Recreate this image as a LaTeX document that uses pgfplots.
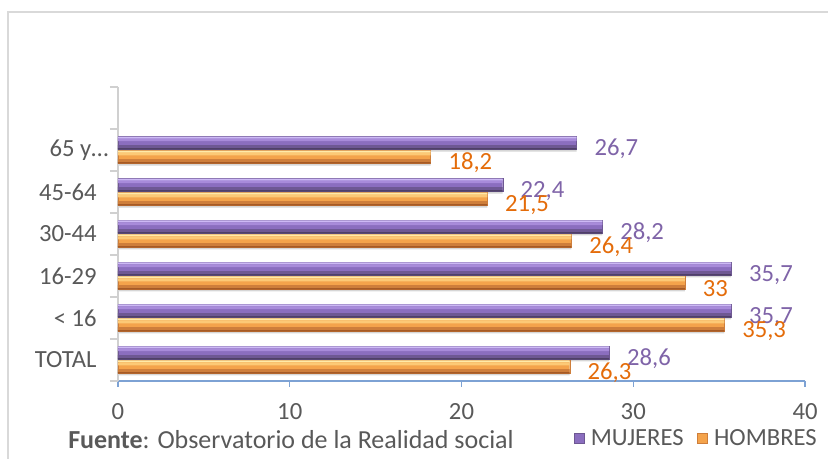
\documentclass[border=0pt]{standalone}
\usepackage{pgfplots}
\usepackage{pgfplotstable}
\pgfplotsset{compat=1.18}
\usepackage{fontspec}
\setmainfont{Carlito}
\definecolor{txt}{HTML}{595959}
\definecolor{purpM}{HTML}{8B6EBF}
\definecolor{purpL}{HTML}{CDB9F5}
\definecolor{purpU}{HTML}{A88BDA}
\definecolor{purpD}{HTML}{6E5893}
\definecolor{purpB}{HTML}{4F4068}
\definecolor{oraM}{HTML}{F4A34B}
\definecolor{oraL}{HTML}{FFEAA8}
\definecolor{oraU}{HTML}{FCC976}
\definecolor{oraD}{HTML}{CE7E3B}
\definecolor{oraB}{HTML}{A55A26}
\definecolor{shad}{HTML}{D6D6D6}
\definecolor{purpT}{HTML}{7F64A8}
\definecolor{oraT}{HTML}{E46C0A}
\definecolor{framec}{HTML}{D9D9D9}
\definecolor{yax}{HTML}{D0D0D0}
\definecolor{xax}{HTML}{7DA2D4}
\pgfplotstableread{
y m h
0 28.6 26.3
1 35.7 35.3
2 35.7 33
3 28.2 26.4
4 22.4 21.5
5 26.7 18.2
}\data
\begin{document}
\begin{tikzpicture}[x=1pt,y=1pt]
\useasboundingbox (-88.5,-58.5) rectangle (532.5,285.75);
\draw[framec, line width=1.5pt] (-82.5,-70) -- (-82.5,276.75) -- (545,276.75);
\begin{axis}[
  at={(0,0)}, anchor=south west,
  scale only axis, width=515.25pt, height=220.5pt,
  xmin=0, xmax=40, ymin=-0.5, ymax=6.5,
  axis x line*=bottom, axis y line*=left,
  x axis line style={xax, line width=0.9pt},
  y axis line style={yax, line width=1.2pt},
  xtick={0,10,20,30,40},
  ytick={0,1,2,3,4,5},
  yticklabels={TOTAL,< 16,16-29,30-44,45-64,{65 y\rlap{\ldots}\rule{4pt}{0pt}}},
  minor ytick={-0.5,0.5,1.5,2.5,3.5,4.5,5.5,6.5},
  tick align=outside,
  major tick length=4.5pt, minor tick length=6pt,
  major x tick style={xax, line width=0.9pt},
  major y tick style={draw=none},
  minor y tick style={yax, line width=1.2pt},
  ticklabel style={text=txt, font=\fontsize{18.5}{22}\selectfont},
  yticklabel style={xshift=-8pt},
  xticklabel style={yshift=-8.5pt},
  xbar,
  every node near coord/.append style={anchor=west, xshift=10pt, yshift=-4.5pt, font=\fontsize{18.5}{22}\selectfont},
  legend style={at={(0.663,-0.194)}, anchor=west, draw=none, fill=none,
    font=\fontsize{18.5}{22}\selectfont, text=txt, legend columns=2,
    /tikz/every odd column/.append style={column sep=3pt},
    /tikz/every even column/.append style={column sep=8pt},
    inner sep=0pt},
  legend image code/.code={\path[#1] (0pt,-3.75pt) rectangle (7.5pt,3.75pt);},
  /pgf/number format/use comma,
  /pgf/number format/fixed,
  /pgf/number format/precision=1,
  /pgf/number format/assume math mode=true,
]
% shadows
\addplot[forget plot, draw=none, fill=shad, bar width=9.75pt, bar shift=3.75pt] table[x=m,y=y]{\data};
\addplot[forget plot, draw=none, fill=shad, bar width=9.75pt, bar shift=-6.75pt] table[x=h,y=y]{\data};
% MUJERES
\addplot[fill=purpM, draw=purpD, line width=0.3pt, bar width=9.75pt, bar shift=5.25pt,
  nodes near coords, every node near coord/.append style={text=purpT}]
  table[x=m,y=y]{\data};
\addlegendentry{MUJERES}
\addplot[forget plot, draw=none, fill=purpL, bar width=1.5pt, bar shift=9.375pt] table[x=m,y=y]{\data};
\addplot[forget plot, draw=none, fill=purpU, bar width=2pt, bar shift=7.6pt] table[x=m,y=y]{\data};
\addplot[forget plot, draw=none, fill=purpD, bar width=2.4pt, bar shift=2.4pt] table[x=m,y=y]{\data};
\addplot[forget plot, draw=none, fill=purpB, bar width=1.1pt, bar shift=0.9pt] table[x=m,y=y]{\data};
% HOMBRES
\addplot[fill=oraM, draw=oraD, line width=0.3pt, bar width=9.75pt, bar shift=-5.25pt,
  nodes near coords, every node near coord/.append style={text=oraT}]
  table[x=h,y=y]{\data};
\addlegendentry{HOMBRES}
\addplot[forget plot, draw=none, fill=oraL, bar width=1.5pt, bar shift=-1.125pt] table[x=h,y=y]{\data};
\addplot[forget plot, draw=none, fill=oraU, bar width=2.2pt, bar shift=-3pt] table[x=h,y=y]{\data};
\addplot[forget plot, draw=none, fill=oraD, bar width=2.4pt, bar shift=-8.1pt] table[x=h,y=y]{\data};
\addplot[forget plot, draw=none, fill=oraB, bar width=1.1pt, bar shift=-9.6pt] table[x=h,y=y]{\data};
\end{axis}
\node[anchor=west, text=txt, font=\fontsize{19.5}{23}\selectfont, inner sep=0pt] at (-37.5,-44.25) {\textbf{Fuente}: Observatorio de la Realidad social};
\end{tikzpicture}
\end{document}
